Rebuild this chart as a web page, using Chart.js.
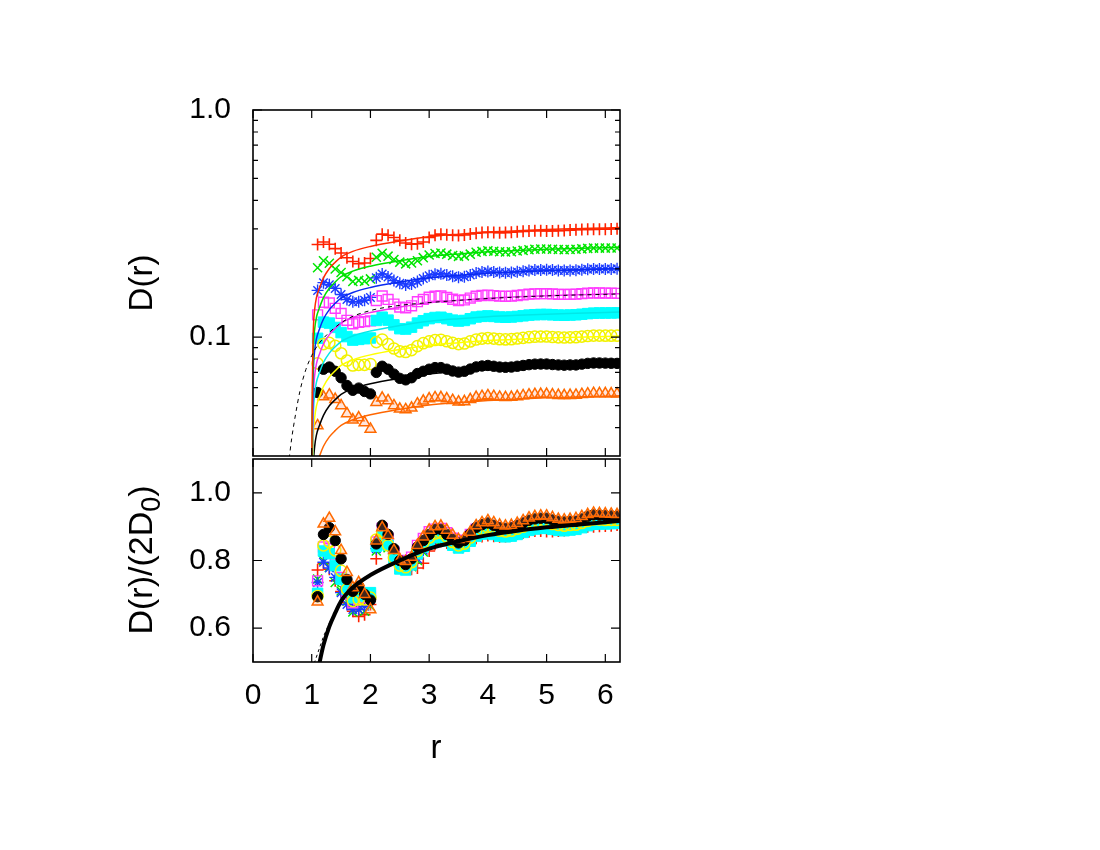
<!DOCTYPE html>
<html><head><meta charset="utf-8">
<script src="https://cdn.jsdelivr.net/npm/chart.js@4.4.1/dist/chart.umd.min.js"></script>
<style>
html,body{margin:0;padding:0;background:#fff;}
#wrap{position:relative;width:1100px;height:850px;background:#fff;}
canvas{position:absolute;left:0;top:0;}
</style></head><body>
<div id="wrap">
<canvas id="cTop" width="1100" height="850"></canvas>
<canvas id="cBot" width="1100" height="850"></canvas>
</div>
<script>
// ---------------- data ----------------
const rPts = [1.1,1.2,1.3,1.4,1.5,1.6,1.7,1.8,1.9,2.0,
  2.1,2.2,2.3,2.4,2.5,2.6,2.7,2.8,2.9,3.0,3.1,3.2,3.3,3.4,3.5,3.6,3.7,3.8,3.9,4.0,
  4.1,4.2,4.3,4.4,4.5,4.6,4.7,4.8,4.9,5.0,5.1,5.2,5.3,5.4,5.5,5.6,5.7,5.8,5.9,6.0,6.1,6.2];

// top panel D(r)
const topRed = [.2559,.2625,.2566,.2453,.2347,.2238,.2155,.2105,.2122,.2221,
  .2669,.2841,.2811,.2745,.2669,.2599,.2566,.2579,.2625,.2745,.2811,.2841,.2824,.2811,.2804,.2818,.2844,.2871,.2887,.2897,
  .2891,.2884,.2887,.2897,.2911,.2924,.2934,.294,.294,.2937,.2937,.294,.2947,.296,.2974,.298,.2984,.2984,.2987,.299,.2993,.30];
const topGreen = [.2022,.2171,.2117,.1995,.1927,.1846,.1759,.1778,.1764,.1805,
  .2247,.2339,.2274,.2198,.2139,.2103,.2122,.2171,.2239,.2301,.2334,.2345,.232,.2288,.2269,.228,.232,.2364,.2386,.2399,
  .2388,.2377,.2372,.2377,.2394,.241,.2426,.2437,.2443,.2445,.244,.2432,.2429,.2432,.2437,.2448,.2459,.2467,.2467,.2467,.247,.247];
const topBlue = [.1607,.1738,.1701,.164,.1541,.1465,.1432,.1432,.1454,.1497,
  .1825,.1897,.1841,.1775,.1727,.1699,.1716,.176,.1814,.1862,.1893,.1902,.188,.1854,.1836,.1847,.188,.1917,.1935,.1946,
  .1937,.1926,.1921,.1926,.1939,.1952,.1965,.1974,.1978,.1981,.1974,.1967,.1965,.1967,.1972,.1981,.1991,.1998,.1998,.1998,.1998,.2];
const topMagenta = [.1255,.1425,.1416,.134,.1272,.1187,.1145,.1162,.117,.1179,
  .145,.1518,.1467,.1399,.1357,.1348,.1374,.1433,.1467,.1501,.1515,.1518,.1496,.1469,.145,.1459,.1487,.1515,.1526,.1533,
  .1525,.1515,.1513,.1516,.1526,.1537,.1547,.1552,.1555,.1555,.155,.1545,.1542,.1545,.1547,.1554,.1562,.1567,.1565,.1564,.1562,.156];
const topCyan = [.0989,.1165,.1154,.1104,.1048,.1006,.0971,.0978,.0985,.0992,
  .1185,.1225,.1189,.1133,.109,.1086,.1107,.1154,.1182,.1207,.1221,.1224,.1207,.1189,.1178,.1185,.1206,.1227,.1235,.1241,
  .1234,.1227,.1224,.1227,.1234,.1242,.1251,.1256,.1259,.1259,.1255,.1251,.1249,.1252,.1255,.1262,.127,.1276,.1278,.1278,.1279,.128];
const topYellow = [.0767,.0933,.0944,.0916,.085,.0789,.0751,.0756,.0756,.0762,
  .0952,.0977,.0933,.0892,.0867,.0861,.0878,.0914,.0941,.0958,.0972,.0974,.096,.0944,.0933,.0938,.0958,.0977,.0986,.0991,
  .0986,.098,.0978,.098,.0987,.0994,.1,.1005,.1007,.1007,.1002,.0999,.0997,.0999,.1,.1006,.1012,.1017,.1017,.1016,.1016,.1016];
const topBlack = [.0571,.0723,.0739,.0708,.0663,.0613,.0584,.0597,.0577,.0563,
  .07,.0745,.0723,.0688,.0659,.0649,.0663,.0692,.0708,.0723,.0735,.0735,.0723,.071,.0702,.0708,.0724,.074,.0747,.0751,
  .0745,.0739,.0737,.0739,.0745,.0751,.0757,.0761,.0762,.0762,.0758,.0755,.0753,.0755,.0755,.0761,.0767,.077,.077,.0769,.0768,.0767];
const topOrange = [.0408,.0547,.0557,.0533,.05,.0461,.0433,.0442,.0421,.0394,
  .0517,.054,.0526,.05,.0483,.048,.0488,.0509,.0524,.0536,.0542,.0543,.0536,.0527,.0519,.0521,.0532,.0544,.0549,.0553,
  .0549,.0545,.0543,.0544,.0548,.0553,.0557,.056,.0561,.0561,.0558,.0555,.0554,.0555,.0556,.056,.0563,.0566,.0565,.0565,.0564,.0563];

// bottom panel D(r)/(2D0)
const normRed = [.772,.792,.774,.74,.708,.675,.65,.635,.64,.67,
  .805,.857,.848,.828,.805,.784,.774,.778,.792,.828,.848,.857,.852,.848,.846,.85,.858,.866,.871,.874,
  .872,.87,.871,.874,.878,.882,.885,.887,.887,.886,.886,.887,.889,.893,.897,.899,.9,.9,.901,.902,.903,.905];
const normGreen = [.745,.80,.78,.735,.71,.68,.648,.655,.65,.665,
  .828,.862,.838,.81,.788,.775,.782,.80,.825,.848,.86,.864,.855,.843,.836,.84,.855,.871,.879,.884,
  .88,.876,.874,.876,.882,.888,.894,.898,.90,.901,.899,.896,.895,.896,.898,.902,.906,.909,.909,.909,.91,.91];
const normBlue = [.735,.795,.778,.75,.705,.67,.655,.655,.665,.685,
  .835,.868,.842,.812,.79,.777,.785,.805,.83,.852,.866,.87,.86,.848,.84,.845,.86,.877,.885,.89,
  .886,.881,.879,.881,.887,.893,.899,.903,.905,.906,.903,.90,.899,.90,.902,.906,.911,.914,.914,.914,.914,.915];
const normMagenta = [.74,.84,.835,.79,.75,.70,.675,.685,.69,.695,
  .855,.895,.865,.825,.80,.795,.81,.845,.865,.885,.893,.895,.882,.866,.855,.86,.877,.893,.90,.904,
  .899,.893,.892,.894,.90,.906,.912,.915,.917,.917,.914,.911,.909,.911,.912,.916,.921,.924,.923,.922,.921,.92];
const normCyan = [.703,.828,.82,.785,.745,.715,.69,.695,.70,.705,
  .842,.871,.845,.805,.775,.772,.787,.82,.84,.858,.868,.87,.858,.845,.837,.842,.857,.872,.878,.882,
  .877,.872,.87,.872,.877,.883,.889,.893,.895,.895,.892,.889,.888,.89,.892,.897,.903,.907,.908,.908,.909,.91];
const normYellow = [.695,.845,.855,.83,.77,.715,.68,.685,.685,.69,
  .862,.885,.845,.808,.785,.78,.795,.828,.852,.868,.88,.882,.87,.855,.845,.85,.868,.885,.893,.898,
  .893,.888,.886,.888,.894,.90,.906,.91,.912,.912,.908,.905,.903,.905,.906,.911,.917,.921,.921,.92,.92,.92];
const normBlack = [.693,.877,.897,.859,.805,.744,.709,.724,.70,.683,
  .849,.904,.877,.835,.80,.788,.805,.84,.859,.877,.892,.892,.877,.862,.852,.859,.879,.898,.906,.911,
  .904,.897,.895,.897,.904,.911,.919,.923,.925,.925,.92,.916,.914,.916,.916,.923,.931,.935,.934,.933,.932,.931];
const normOrange = [.678,.908,.925,.885,.83,.765,.72,.735,.70,.655,
  .858,.897,.874,.83,.802,.797,.81,.845,.87,.89,.90,.902,.89,.875,.862,.865,.884,.903,.912,.918,
  .912,.905,.902,.904,.91,.918,.926,.93,.932,.932,.927,.922,.92,.922,.924,.93,.936,.94,.939,.938,.937,.936];

// fitted curves
const rFit = [1.0,1.005,1.01,1.02,1.03,1.05,1.08,1.13,1.2,1.3,1.4,1.5,1.7,2.0,2.5,3.0,3.5,4.0,4.5,5.0,5.5,6.0,6.25];
const fitRed = [.0199,.0398,.0597,.0895,.1127,.1326,.1492,.1641,.1823,.2006,.2138,.2254,.2387,.2509,.2652,.2768,.2841,.2901,.2944,.2977,.3003,.3027,.304];
const fitGreen = [.0163,.0326,.0489,.0733,.0923,.1086,.1221,.1343,.1493,.1642,.1751,.1846,.1954,.2054,.2171,.2266,.2326,.2375,.241,.2437,.2459,.2478,.2489];
const fitBlue = [.0131,.0262,.0393,.059,.0743,.0874,.0984,.1082,.1202,.1323,.141,.1486,.1574,.1655,.1749,.1825,.1873,.1913,.1941,.1963,.1981,.1996,.2005];
const fitMagenta = [.0102,.0204,.0305,.0458,.0577,.0678,.0763,.084,.0933,.1026,.1094,.1153,.1221,.1284,.1357,.1416,.1453,.1484,.1506,.1523,.1537,.1548,.1555];
const fitCyan = [.0084,.0169,.0253,.038,.0478,.0563,.0633,.0696,.0774,.0851,.0908,.0957,.1013,.1065,.1126,.1175,.1206,.1231,.1249,.1263,.1275,.1285,.129];
const fitYellow = [.0066,.0132,.0199,.0298,.0375,.0442,.0497,.0546,.0607,.0668,.0712,.0751,.0795,.0836,.0883,.0922,.0946,.0966,.098,.0991,.1,.1008,.1012];
const fitBlack = [.0049,.0099,.0148,.0222,.028,.033,.0371,.0408,.0453,.0499,.0531,.056,.0593,.0624,.0659,.0688,.0706,.0721,.0732,.074,.0747,.0752,.0756];
const fitOrange = [.0036,.0072,.0108,.0163,.0205,.0241,.0271,.0298,.0331,.0364,.0388,.0409,.0433,.0456,.0482,.0503,.0516,.0527,.0535,.0541,.0545,.055,.0552];
const fitNorm = [.06,.12,.18,.27,.34,.40,.45,.495,.55,.605,.645,.68,.72,.757,.80,.835,.857,.875,.888,.898,.906,.913,.917];

const rDashTop = [0.6,0.66,0.72,0.8,0.9,1.0,1.1,1.3,1.6,2.0,2.5,3.0,4.0,5.0,6.25];
const dashTop = [.027,.036,.045,.058,.072,.083,.092,.105,.12,.131,.138,.142,.148,.152,.155];
const rDashBot = [1.0,1.05,1.1,1.15,1.2,1.25,1.3,1.4,1.5,1.7,2.0];
const dashBot = [.48,.50,.525,.55,.575,.595,.615,.645,.68,.72,.757];

// ticks
const xTickVals = [0,1,2,3,4,5,6];
const topYMajor = [0.1,1.0];
const topYMinor = [0.04,0.05,0.06,0.07,0.08,0.09,0.2,0.3,0.4,0.5,0.6,0.7,0.8,0.9];
const botYTicks = [0.6,0.8,1.0];

// ---------------- drawing ----------------
const FONT = "'Liberation Sans', Arial, Helvetica, sans-serif";
Chart.defaults.font.family = FONT;
Chart.defaults.color = '#000';

const COL = {red:'#ff2200', green:'#00e600', blue:'#1c3cff', magenta:'#ff3cff', cyan:'#00ffff', yellow:'#f2f200', black:'#000000', orange:'#ff6a00'};
const LCOL = {red:'#ff2a00', green:'#00e000', blue:'#0a2af0', magenta:'#f030f0', cyan:'#00e8e8', yellow:'#ffff00', black:'#000000', orange:'#ff6600'};

const pts = (xs, ys) => xs.map((x, i) => ({x: x, y: ys[i]}));

function curve(xs, ys, color, width, dash) {
  return {data: pts(xs, ys), showLine: true, borderColor: color, borderWidth: width,
    borderDash: dash || [], pointRadius: 0, fill: false, cubicInterpolationMode: 'monotone'};
}
const STYLE = {
  red:    {pointStyle:'cross', pointRadius:6, pointBorderWidth:1.6, pointBorderColor:COL.red, pointBackgroundColor:COL.red},
  green:  {pointStyle:'crossRot', pointRadius:6.4, pointBorderWidth:1.5, pointBorderColor:COL.green, pointBackgroundColor:COL.green},
  blue:   {pointStyle:'star', pointRadius:6, pointBorderWidth:1.4, pointBorderColor:COL.blue, pointBackgroundColor:COL.blue},
  magenta:{pointStyle:'rect', pointRadius:7, pointBorderWidth:1.4, pointBorderColor:COL.magenta, pointBackgroundColor:'rgba(0,0,0,0)'},
  cyan:   {pointStyle:'rect', pointRadius:7.4, pointBorderWidth:1, pointBorderColor:COL.cyan, pointBackgroundColor:COL.cyan},
  yellow: {pointStyle:'circle', pointRadius:5.6, pointBorderWidth:1.5, pointBorderColor:COL.yellow, pointBackgroundColor:'rgba(0,0,0,0)'},
  black:  {pointStyle:'circle', pointRadius:5.2, pointBorderWidth:1, pointBorderColor:COL.black, pointBackgroundColor:COL.black},
  orange: {pointStyle:'triangle', pointRadius:6.2, pointBorderWidth:1.5, pointBorderColor:COL.orange, pointBackgroundColor:'rgba(255,150,110,0.25)'}
};
function markers(ys, key) {
  return Object.assign({data: pts(rPts, ys), showLine: false}, STYLE[key]);
}

function drawTitle(ctx, t) {
  ctx.save();
  ctx.translate(t.x, t.y);
  if (t.rot) ctx.rotate(-Math.PI / 2);
  const fs = t.size;
  const f = fs + 'px ' + FONT, fsub = Math.round(fs * 0.8) + 'px ' + FONT;
  ctx.font = f;
  const w1 = ctx.measureText(t.text).width;
  let w2 = 0, w3 = 0;
  if (t.sub) { ctx.font = fsub; w2 = ctx.measureText(t.sub).width; ctx.font = f; w3 = ctx.measureText(t.after || '').width; }
  const x0 = -(w1 + w2 + w3) / 2;
  const base = fs * 0.36;
  ctx.fillStyle = '#000'; ctx.textAlign = 'left'; ctx.textBaseline = 'alphabetic';
  ctx.font = f; ctx.fillText(t.text, x0, base);
  if (t.sub) {
    ctx.font = fsub; ctx.fillText(t.sub, x0 + w1, base + fs * 0.22);
    ctx.font = f; ctx.fillText(t.after || '', x0 + w1 + w2, base);
  }
  ctx.restore();
}

const framePlugin = {
  id: 'frame',
  afterDraw(chart, args, o) {
    const ctx = chart.ctx, a = chart.chartArea, xs = chart.scales.x, ys = chart.scales.y;
    ctx.save();
    ctx.strokeStyle = '#000';
    ctx.lineWidth = 1.2;
    ctx.beginPath();
    o.xTicks.forEach(v => {
      const p = xs.getPixelForValue(v);
      ctx.moveTo(p, a.top); ctx.lineTo(p, a.top + o.xLen);
      ctx.moveTo(p, a.bottom); ctx.lineTo(p, a.bottom - o.xLen);
    });
    o.yMajor.forEach(v => {
      const p = ys.getPixelForValue(v);
      ctx.moveTo(a.left, p); ctx.lineTo(a.left + o.yLen, p);
      ctx.moveTo(a.right, p); ctx.lineTo(a.right - o.yLen, p);
    });
    (o.yMinor || []).forEach(v => {
      const p = ys.getPixelForValue(v);
      ctx.moveTo(a.left, p); ctx.lineTo(a.left + o.yMinorLen, p);
      ctx.moveTo(a.right, p); ctx.lineTo(a.right - o.yMinorLen, p);
    });
    ctx.stroke();
    ctx.lineWidth = 1.6;
    ctx.strokeRect(a.left, a.top, a.right - a.left, a.bottom - a.top);
    (o.titles || []).forEach(t => drawTitle(ctx, t));
    ctx.restore();
  }
};

const baseOpts = {
  responsive: false, animation: false, devicePixelRatio: 1,
  events: []
};

// Top panel
new Chart(document.getElementById('cTop'), {
  type: 'scatter',
  data: {datasets: [
    curve(rDashTop, dashTop, '#000', 1, [4, 4]),
    curve(rFit, fitRed, LCOL.red, 1.5),
    curve(rFit, fitGreen, LCOL.green, 1.5),
    curve(rFit, fitBlue, LCOL.blue, 1.5),
    curve(rFit, fitMagenta, LCOL.magenta, 1.5),
    curve(rFit, fitCyan, LCOL.cyan, 1.5),
    curve(rFit, fitYellow, LCOL.yellow, 1.5),
    curve(rFit, fitBlack, LCOL.black, 1.5),
    curve(rFit, fitOrange, LCOL.orange, 1.5),
    markers(topOrange, 'orange'),
    markers(topBlack, 'black'),
    markers(topYellow, 'yellow'),
    markers(topCyan, 'cyan'),
    markers(topMagenta, 'magenta'),
    markers(topBlue, 'blue'),
    markers(topGreen, 'green'),
    markers(topRed, 'red')
  ]},
  options: Object.assign({}, baseOpts, {
    layout: {padding: {left: 125, top: 110, right: 480, bottom: 394}},
    plugins: {legend: {display: false}, tooltip: {enabled: false},
      frame: {xTicks: xTickVals, xLen: 8, yMajor: topYMajor, yLen: 9, yMinor: topYMinor, yMinorLen: 5,
        titles: [{text: 'D(r)', x: 140, y: 283, rot: true, size: 33}]}},
    scales: {
      x: {type: 'linear', display: false, min: 0, max: 6.25},
      y: {type: 'logarithmic', min: 0.03, max: 1.0,
        grid: {display: false, drawTicks: false}, border: {display: false},
        afterFit(s) { s.width = 128; },
        afterBuildTicks(s) { s.ticks = topYMajor.map(v => ({value: v})); },
        ticks: {padding: 22, autoSkip: false, font: {size: 30}, callback: v => Number(v).toFixed(1)}}
    }
  }),
  plugins: [framePlugin]
});

// Bottom panel
new Chart(document.getElementById('cBot'), {
  type: 'scatter',
  data: {datasets: [
    curve(rFit, fitNorm, '#000', 4),
    curve(rDashBot, dashBot, '#000', 1, [3, 3]),
    markers(normOrange, 'orange'),
    markers(normBlack, 'black'),
    markers(normYellow, 'yellow'),
    markers(normCyan, 'cyan'),
    markers(normMagenta, 'magenta'),
    markers(normBlue, 'blue'),
    markers(normGreen, 'green'),
    markers(normRed, 'red')
  ]},
  options: Object.assign({}, baseOpts, {
    layout: {padding: {left: 125, top: 459, right: 480, bottom: 85}},
    plugins: {legend: {display: false}, tooltip: {enabled: false},
      frame: {xTicks: xTickVals, xLen: 8, yMajor: botYTicks, yLen: 9,
        titles: [{text: 'D(r)/(2D', sub: '0', after: ')', x: 140, y: 560, rot: true, size: 34},
                 {text: 'r', x: 436, y: 746, rot: false, size: 33}]}},
    scales: {
      x: {type: 'linear', min: 0, max: 6.25,
        grid: {display: false, drawTicks: false}, border: {display: false},
        afterFit(s) { s.height = 103; },
        afterBuildTicks(s) { s.ticks = xTickVals.map(v => ({value: v})); },
        ticks: {padding: 16, autoSkip: false, maxRotation: 0, font: {size: 30}, callback: v => String(v)}},
      y: {type: 'linear', min: 0.5, max: 1.1,
        grid: {display: false, drawTicks: false}, border: {display: false},
        afterFit(s) { s.width = 128; },
        afterBuildTicks(s) { s.ticks = botYTicks.map(v => ({value: v})); },
        ticks: {padding: 22, autoSkip: false, font: {size: 30}, callback: v => Number(v).toFixed(1)}}
    }
  }),
  plugins: [framePlugin]
});
</script>
</body></html>
